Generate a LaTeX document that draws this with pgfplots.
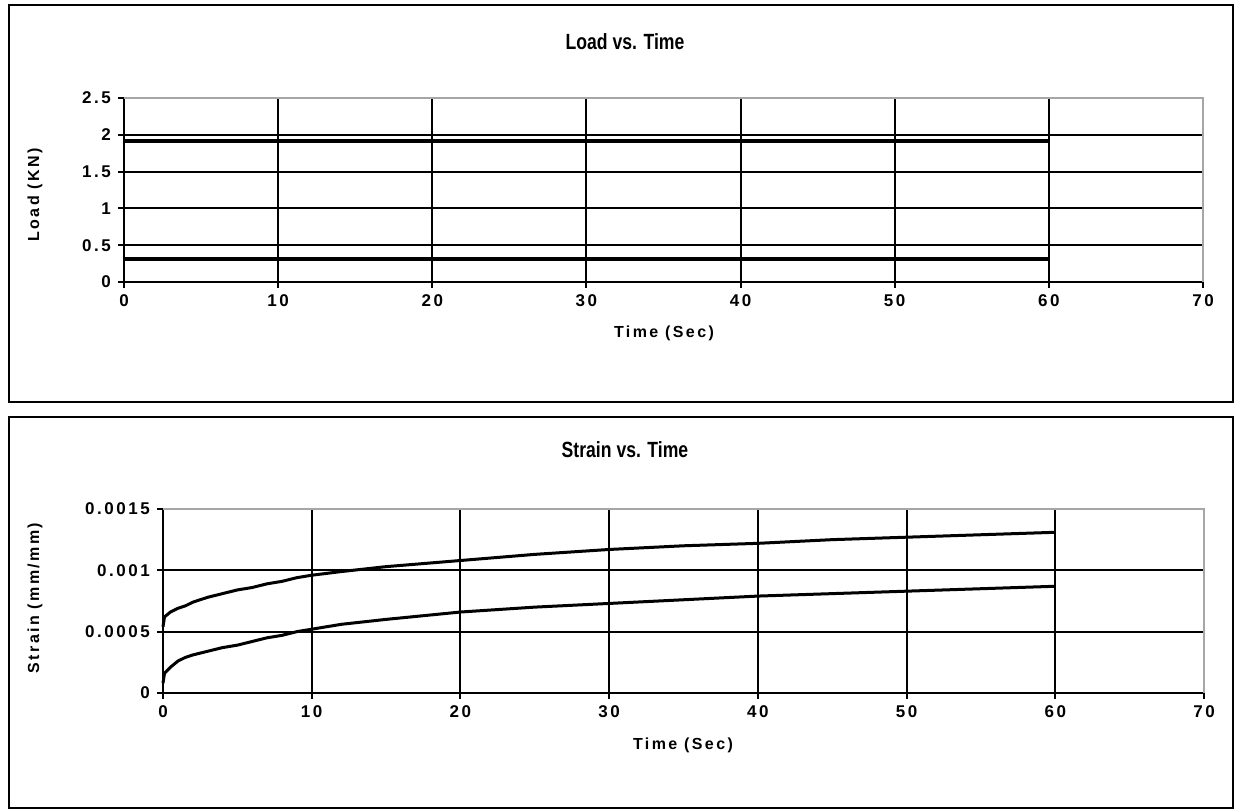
\documentclass[border=0pt]{standalone}
\usepackage{pgfplots}
\pgfplotsset{compat=1.18}
\usepackage{graphicx}
\usepackage{fontspec}
\setmainfont{Liberation Sans}
\newfontfamily\lblfont[LetterSpace=15]{Liberation Sans}

\pgfplotsset{
  excelpanel/.style={
    scale only axis,
    axis x line*=bottom, axis y line*=left,
    axis line style={black, line width=1pt},
    grid=major,
    grid style={black, line width=1pt},
    major tick style={black, line width=1pt},
    tick align=outside, major tick length=3pt,
    xmin=0, xmax=70, xtick={0,10,...,70},
    tick label style={font=\lblfont\bfseries\fontsize{8.5}{9}\selectfont},
    /pgf/number format/assume math mode=true,
    clip=false,
  },
  datline/.style={black, line width=1.5pt, no marks},
}
\newcommand{\charttitle}[1]{\scalebox{0.8}[1]{\bfseries\fontsize{11}{12}\selectfont #1}}

\begin{document}
\begin{tikzpicture}
\path (0pt,0pt) rectangle (619pt,406pt);
% outer boxes of the two chart objects
\draw[line width=0.9pt] (4.5pt,403.5pt) rectangle (616.5pt,205pt);
\draw[line width=0.9pt] (4.5pt,197.5pt) rectangle (616.5pt,2pt);

% ---- Load vs. Time
\begin{axis}[excelpanel,
  at={(62pt,265pt)}, anchor=south west,
  width=539.5pt, height=92pt,
  ymin=0, ymax=2.5, ytick={0,0.5,...,2.5},
  yticklabels={0,0.5,1,1.5,2,2.5},
]
\addplot[datline, line width=2pt] coordinates {(0,1.91) (60,1.91)};
\addplot[datline, line width=2pt] coordinates {(0,0.31) (60,0.31)};
\draw[gray!70, line width=0.9pt] (rel axis cs:0,1) -- (rel axis cs:1,1) -- (rel axis cs:1,0);
\end{axis}
\node at (312.5pt,385pt) {\charttitle{Load vs. Time}};
\node[font=\lblfont\bfseries\fontsize{8}{9}\selectfont] at (332pt,239.5pt) {Time (Sec)};
\node[font=\lblfont\bfseries\fontsize{8}{9}\selectfont, rotate=90] at (17.5pt,308.5pt) {Load (KN)};

% ---- Strain vs. Time
\begin{axis}[excelpanel,
  at={(81.5pt,59.5pt)}, anchor=south west,
  width=520.5pt, height=92pt,
  ymin=0, ymax=0.0015, ytick={0,0.0005,0.001,0.0015},
  yticklabels={0,0.0005,0.001,0.0015},
  scaled y ticks=false,
]
\addplot[datline] coordinates {
 (0,0.00054) (0.1,0.00062) (0.5,0.00066) (1,0.00069) (1.5,0.00071)
 (2,0.00074) (3,0.00078) (4,0.00081) (5,0.00084) (6,0.00086)
 (7,0.00089) (8,0.00091) (9,0.00094) (10,0.00096) (12,0.00099)
 (15,0.00103) (20,0.00108) (25,0.00113) (30,0.00117) (35,0.00120)
 (40,0.00122) (45,0.00125) (50,0.00127) (55,0.00129) (60,0.00131)};
\addplot[datline] coordinates {
 (0,0.00008) (0.1,0.00016) (0.5,0.00021) (1,0.00026) (1.5,0.00029)
 (2,0.00031) (3,0.00034) (4,0.00037) (5,0.00039) (6,0.00042)
 (7,0.00045) (8,0.00047) (9,0.00050) (10,0.00052) (12,0.00056)
 (15,0.00060) (20,0.00066) (25,0.00070) (30,0.00073) (35,0.00076)
 (40,0.00079) (45,0.00081) (50,0.00083) (55,0.00085) (60,0.00087)};
\draw[gray!70, line width=0.9pt] (rel axis cs:0,1) -- (rel axis cs:1,1) -- (rel axis cs:1,0);
\end{axis}
\node at (312.5pt,181pt) {\charttitle{Strain vs. Time}};
\node[font=\lblfont\bfseries\fontsize{8}{9}\selectfont] at (341.5pt,33.5pt) {Time (Sec)};
\node[font=\lblfont\bfseries\fontsize{8}{9}\selectfont, rotate=90] at (17.5pt,107pt) {Strain (mm/mm)};
\end{tikzpicture}
\end{document}
